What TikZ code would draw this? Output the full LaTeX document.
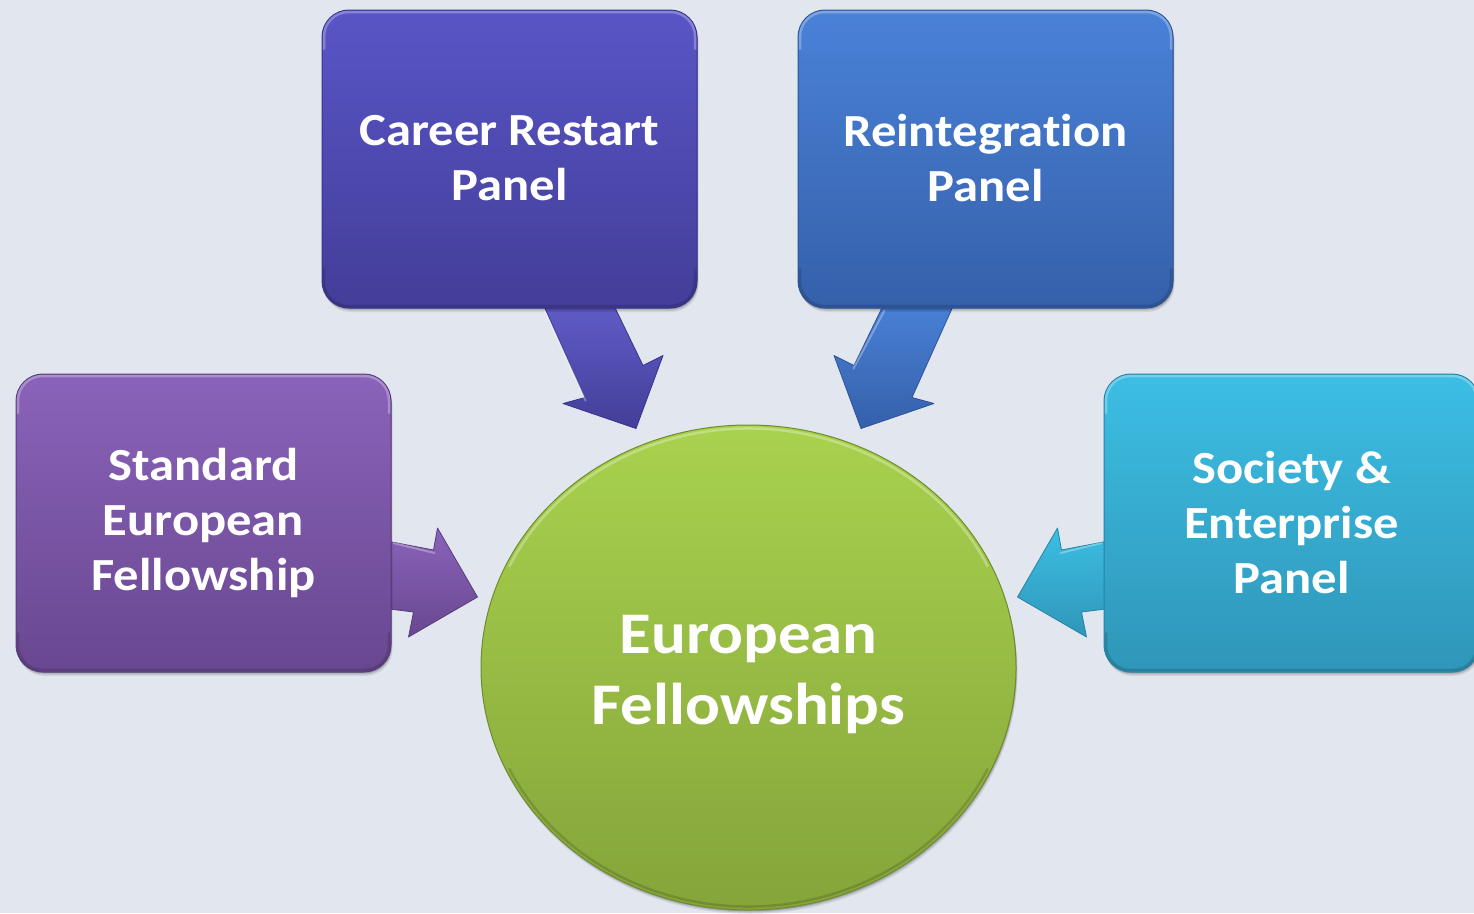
\documentclass[tikz,border=0pt]{standalone}
\usepackage{fontspec}
\setmainfont{Carlito}[Ligatures=NoCommon, FakeStretch=1.1]
\usetikzlibrary{shapes.geometric,shadows}
\pgfdeclarelayer{back}
\pgfdeclarelayer{arrows}
\pgfsetlayers{back,arrows,main}

\definecolor{bg}{HTML}{E2E7EF}
\definecolor{careerT}{HTML}{5955C7}
\definecolor{careerB}{HTML}{433E98}
\definecolor{careerD}{HTML}{38338A}
\definecolor{reintT}{HTML}{4A82D8}
\definecolor{reintB}{HTML}{3560AA}
\definecolor{reintD}{HTML}{2D5396}
\definecolor{stdT}{HTML}{8A63BA}
\definecolor{stdB}{HTML}{694790}
\definecolor{stdD}{HTML}{5A3C7E}
\definecolor{socT}{HTML}{3CBEE4}
\definecolor{socB}{HTML}{2F96B8}
\definecolor{socD}{HTML}{2883A3}
\definecolor{fellT}{HTML}{A9D24E}
\definecolor{fellB}{HTML}{85A43A}
\definecolor{fellD}{HTML}{6F8C2C}

\tikzset{
  softshadow/.style={
    drop shadow={shadow xshift=1.5pt, shadow yshift=-4pt, opacity=0.08, fill=black},
    drop shadow={shadow xshift=1pt, shadow yshift=-2.5pt, opacity=0.12, fill=black},
    drop shadow={shadow xshift=0.5pt, shadow yshift=-1.2pt, opacity=0.18, fill=black}},
  panel/.style={rectangle, rounded corners=27pt, minimum width=375pt,
    minimum height=298pt, inner sep=0pt, align=center, text=white,
    line width=1pt, softshadow,
    font=\fontsize{46}{55}\selectfont\bfseries},
  hub/.style={ellipse, minimum width=535pt, minimum height=485pt,
    inner sep=0pt, align=center, text=white, line width=1pt, softshadow,
    font=\fontsize{59}{71}\selectfont\bfseries},
  blockarrow/.style={line width=0.8pt, line join=round},
  arrowlight/.style={draw=white, draw opacity=0.3, line width=2pt, line cap=round},
  rimlight/.style={draw=white, draw opacity=0.28, line width=2.5pt,
    rounded corners=24.5pt},
  rimdark/.style={draw=black, draw opacity=0.14, line width=2.5pt,
    rounded corners=24.5pt}
}
\newcommand\panelbevel[1]{%
  \draw[rimlight] ([shift={(2.5pt,-40pt)}]#1.north west)
    |- ([shift={(-2.5pt,-2.5pt)}]#1.north east)
    -- ([shift={(-2.5pt,-40pt)}]#1.north east);
  \draw[rimdark] ([shift={(2.5pt,40pt)}]#1.south west)
    |- ([shift={(-2.5pt,2.5pt)}]#1.south east)
    -- ([shift={(-2.5pt,40pt)}]#1.south east);
}

\begin{document}
\begin{tikzpicture}[x=1pt,y=-1pt]
\begin{pgfonlayer}{back}
  \fill[bg] (0,0) rectangle (1474,913);
\end{pgfonlayer}
\useasboundingbox (0,0) rectangle (1474,913);

\node[panel, top color=careerT, bottom color=careerB, draw=careerD]
  (career) at (509.5,159) {Career Restart\\Panel\rule[-2.5pt]{0pt}{0pt}};
\node[panel, top color=reintT, bottom color=reintB, draw=reintD]
  (reint) at (985.5,159) {Reintegration\\Panel\rule[-2.5pt]{0pt}{0pt}};
\node[panel, top color=stdT, bottom color=stdB, draw=stdD]
  (standard) at (203.5,523) {Standard\\European\\Fellowship};
\node[panel, top color=socT, bottom color=socB, draw=socD]
  (society) at (1291.5,523) {Society \&\\Enterprise\\Panel};
\node[hub, top color=fellT, bottom color=fellB, draw=fellD]
  (fellow) at (748.5,667.5) {\rule{0pt}{53pt}European\\Fellowships};

\panelbevel{career}
\panelbevel{reint}
\panelbevel{standard}
\panelbevel{society}
\begin{scope}[shift={(fellow.center)}]
  \draw[draw=white, draw opacity=0.3, line width=2.5pt]
    (-155:264 and 239) arc[start angle=-155, end angle=-25,
      x radius=264, y radius=239];
  \draw[draw=black, draw opacity=0.14, line width=2.5pt]
    (25:264 and 239) arc[start angle=25, end angle=155,
      x radius=264, y radius=239];
\end{scope}

\begin{pgfonlayer}{arrows}
  % Career Restart -> European Fellowships
  \begin{scope}[shift={(career.south)}]
    \path[blockarrow, top color=careerT!95!white, bottom color=careerB, draw=careerD]
      (31,-10) -- (75.5,89) -- (53.5,95) -- (126.5,120) -- (153.5,47)
      -- (133.5,57) -- (101,-10) -- cycle;
    \draw[arrowlight] (35,2) -- (76,92);
  \end{scope}
  % Reintegration -> European Fellowships
  \begin{scope}[shift={(reint.south)}]
    \path[blockarrow, top color=reintT, bottom color=reintB, draw=reintD]
      (-29,-10) -- (-73.5,89) -- (-51.5,95) -- (-124.5,120) -- (-151.5,47)
      -- (-131.5,57) -- (-99,-10) -- cycle;
    \draw[arrowlight] (-101,2) -- (-132,60);
  \end{scope}
  % Standard -> European Fellowships
  \begin{scope}[shift={(standard.east)}]
    \path[blockarrow, top color=stdT, bottom color=stdB, draw=stdD]
      (-10,17) -- (42,27) -- (46,5) -- (86,74) -- (17,114) -- (22,89)
      -- (-10,85) -- cycle;
    \draw[arrowlight] (2,20) -- (43,30);
  \end{scope}
  % Society -> European Fellowships
  \begin{scope}[shift={(society.west)}]
    \path[blockarrow, top color=socT, bottom color=socB, draw=socD]
      (10,17) -- (-42,27) -- (-46,5) -- (-86,74) -- (-17,114) -- (-22,89)
      -- (10,85) -- cycle;
    \draw[arrowlight] (-2,20) -- (-43,30);
  \end{scope}
\end{pgfonlayer}
\end{tikzpicture}
\end{document}
